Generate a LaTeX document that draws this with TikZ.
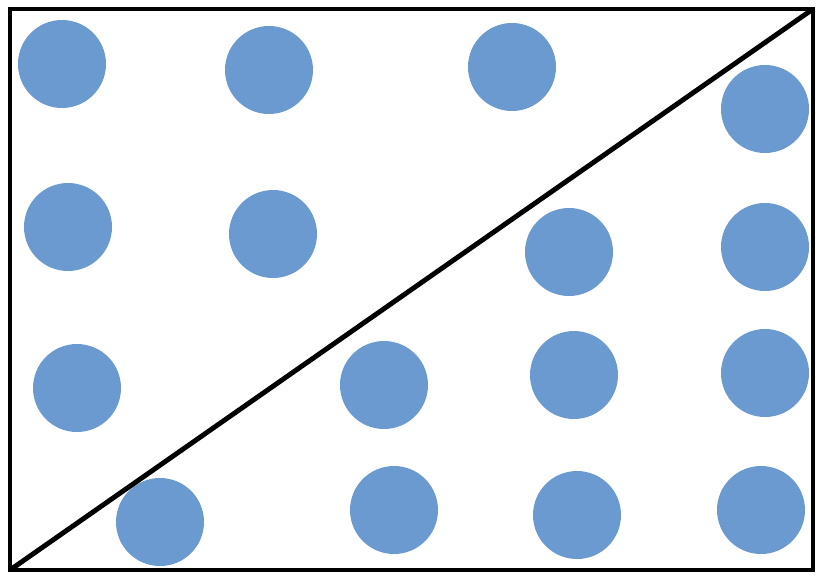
\documentclass[tikz,border=0pt]{standalone}
\begin{document}
\begin{tikzpicture}[
    x=0.03cm, y=-0.03cm,
    ball/.style={circle, fill=dotblue, minimum size=2.64cm, inner sep=0pt},
    frame/.style={draw=black, line width=4.2pt}
]
    \definecolor{dotblue}{RGB}{106,154,207}
    \useasboundingbox (0,0) rectangle (817,576);
    \coordinate (bl) at (10,570);
    \coordinate (tr) at (813,9);

    \node[ball] (a1) at (62,64) {};
    \node[ball] (a2) at (269,70) {};
    \node[ball] (a3) at (512,67) {};
    \node[ball] (a4) at (765,109) {};
    \node[ball] (b1) at (68,227) {};
    \node[ball] (b2) at (273,234) {};
    \node[ball] (b3) at (569,252) {};
    \node[ball] (b4) at (765,247) {};
    \node[ball] (c1) at (77,388) {};
    \node[ball] (c2) at (384,385) {};
    \node[ball] (c3) at (574,375) {};
    \node[ball] (c4) at (765,373) {};
    \node[ball] (d1) at (160,522) {};
    \node[ball] (d2) at (394,510) {};
    \node[ball] (d3) at (577,515) {};
    \node[ball] (d4) at (761,510) {};

    \draw[frame] (bl) rectangle (tr);
    \draw[frame] (bl) -- (tr);
\end{tikzpicture}
\end{document}
